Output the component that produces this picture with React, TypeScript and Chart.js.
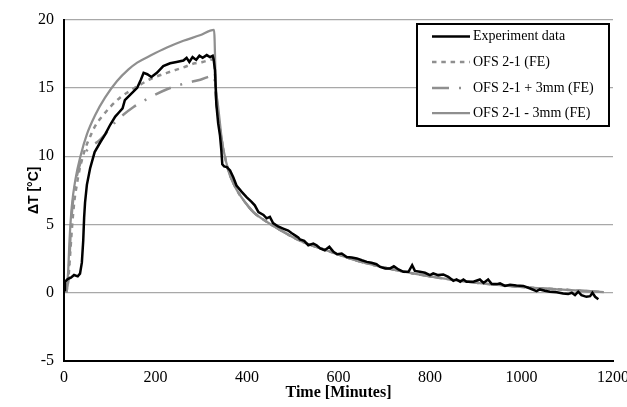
import React, { useEffect, useRef } from "react";
import { Chart, registerables } from "chart.js";

Chart.register(...registerables);

const seriesNames = ["Experiment data", "OFS 2-1 (FE)", "OFS 2-1 + 3mm (FE)", "OFS 2-1 - 3mm (FE)"];

const xTickValues = [0, 200, 400, 600, 800, 1000, 1200];
const yTickValues = [-5, 0, 5, 10, 15, 20];

// Experiment data (minutes, °C)
const expTime = [
  0, 2, 8, 15, 22, 30, 35, 39, 42, 44, 46, 50, 57, 67, 79, 90, 101, 112, 120, 128, 133, 145, 160, 168, 174, 182, 191,
  203, 217, 232, 246, 261, 268, 274, 281, 289, 296, 303, 312, 319, 325, 327, 330, 333, 337, 341, 344, 346, 350, 356,
  363, 370, 377, 388, 399, 410, 417, 425, 436, 443, 450, 457, 468, 479, 490, 498, 505, 512,
  516, 525, 534, 545, 552, 560, 570, 580, 589, 597, 607, 618, 629, 640, 651, 662, 672, 683, 691, 702, 713, 721, 731,
  742, 753, 761, 767, 778, 789, 800, 807, 818, 829, 840, 851, 858, 866, 873, 880, 895, 909, 917, 927, 935, 946, 953,
  964, 975, 989, 1004, 1019, 1033, 1040, 1051, 1062, 1077, 1091, 1102, 1110, 1117, 1124, 1131, 1142, 1150, 1155, 1161, 1168,
];
const expDT = [
  0.2, 0.8, 1.0, 1.1, 1.3, 1.2, 1.4, 2.2, 3.8, 5.5, 6.6, 7.9, 9.1, 10.3, 11.0, 11.6, 12.3, 12.9, 13.2, 13.5, 14.1, 14.5,
  15.0, 15.6, 16.1, 16.0, 15.8, 16.1, 16.6, 16.8, 16.9, 17.0, 17.2, 16.9, 17.25, 17.05, 17.35, 17.2, 17.4, 17.25, 17.35,
  17.1, 16.3, 13.8, 12.4, 11.5, 10.4, 9.4, 9.25, 9.2, 8.95, 8.45, 7.85, 7.4, 7.0, 6.65, 6.4, 5.9, 5.7, 5.45, 5.55, 5.1,
  4.85, 4.7, 4.55, 4.35, 4.2, 4.05,
  3.9, 3.8, 3.48, 3.6, 3.48, 3.24, 3.11, 3.36, 2.99, 2.82, 2.87, 2.62, 2.58, 2.51, 2.38, 2.26, 2.19, 2.09, 1.89, 1.78,
  1.78, 1.94, 1.7, 1.53, 1.53, 2.02, 1.6, 1.53, 1.46, 1.29, 1.41, 1.29, 1.34, 1.16, 0.87, 0.97, 0.8, 0.97, 0.8, 0.8,
  0.97, 0.72, 0.97, 0.63, 0.63, 0.68, 0.5, 0.58, 0.53, 0.5, 0.31, 0.12, 0.24, 0.14, 0.07, 0.04, -0.05, -0.1, 0.0,
  -0.18, 0.07, -0.18, -0.3, -0.25, 0.0, -0.3, -0.47,
];

// OFS 2-1 (FE)
const ofsTime = [
  5, 9, 13, 18, 23, 28, 32, 39, 47, 58, 68, 83, 101, 123, 145, 170, 189, 225, 261, 286, 303, 328, 331, 335, 340, 345,
  349, 359, 374, 392, 414, 443, 480, 516, 574, 621, 662, 734, 807, 880, 953, 1026, 1099, 1180,
];
const ofsDT = [
  0, 0.8, 2.6, 5.0, 6.8, 7.9, 8.7, 9.7, 10.6, 11.5, 12.2, 12.9, 13.6, 14.3, 14.8, 15.3, 15.65, 16.1, 16.5, 16.8, 16.9,
  17.1, 15.3, 13.4, 12.3, 11.1, 10.35, 9.0, 7.75, 6.8, 5.9, 5.2, 4.45, 3.8, 3.1, 2.55, 2.15, 1.6, 1.16, 0.82, 0.56,
  0.36, 0.21, 0.05,
];

// OFS 2-1 + 3mm (FE)
const plusTime = [
  5, 9, 12, 15, 19, 25, 33, 42, 55, 79, 115, 152, 188, 225, 261, 298, 328, 332, 336, 341, 346, 350, 359, 374, 392, 414,
  443, 480, 516, 574, 621, 662, 734, 807, 880, 953, 1026, 1099, 1180,
];
const plusDT = [
  0, 0.9, 2.5, 4.8, 6.5, 8.0, 9.2, 10.0, 10.6, 11.2, 12.6, 13.6, 14.3, 14.9, 15.3, 15.6, 15.9, 14.3, 13.0, 11.9, 10.9,
  10.2, 9.0, 7.75, 6.8, 5.9, 5.2, 4.45, 3.8, 3.1, 2.55, 2.15, 1.6, 1.16, 0.82, 0.56, 0.36, 0.21, 0.05,
];

// OFS 2-1 - 3mm (FE)
const minusTime = [
  5, 9, 12, 17, 25, 36, 50, 68, 90, 116, 141, 160, 188, 225, 261, 297, 328, 332, 336, 340, 345, 349, 359, 374, 392,
  414, 443, 480, 516, 574, 621, 662, 734, 807, 880, 953, 1026, 1099, 1180,
];
const minusDT = [
  0, 1.5, 3.8, 6.3, 8.3, 10.0, 11.6, 13.0, 14.3, 15.5, 16.35, 16.85, 17.35, 17.95, 18.45, 18.85, 19.25, 15.1, 13.9,
  12.7, 11.2, 10.4, 9.0, 7.75, 6.8, 5.9, 5.2, 4.45, 3.8, 3.1, 2.55, 2.15, 1.6, 1.16, 0.82, 0.56, 0.36, 0.21, 0.05,
];

const SERIF = "'Liberation Serif', 'Times New Roman', serif";
const SANS = "'Liberation Sans', Arial, sans-serif";

const toPoints = (xs: number[], ys: number[]) => xs.map((x, i) => ({ x, y: ys[i] }));

const boxLegend = {
  id: "boxLegend",
  afterDraw(chart: any) {
    const ctx = chart.ctx as CanvasRenderingContext2D;
    ctx.save();
    const x0 = 417, y0 = 24, w = 192, h = 102;
    ctx.fillStyle = "#ffffff";
    ctx.fillRect(x0, y0, w, h);
    ctx.lineWidth = 2;
    ctx.strokeStyle = "#000000";
    ctx.setLineDash([]);
    ctx.strokeRect(x0, y0, w, h);
    const rows = [36.5, 62, 88, 113];
    chart.data.datasets.forEach((ds: any, i: number) => {
      const y = rows[i];
      ctx.beginPath();
      ctx.setLineDash(ds.borderDash || []);
      ctx.strokeStyle = ds.borderColor;
      ctx.lineWidth = ds.borderWidth;
      ctx.lineCap = "butt";
      ctx.moveTo(432, y);
      ctx.lineTo(470, y);
      ctx.stroke();
      ctx.setLineDash([]);
      ctx.fillStyle = "#000000";
      ctx.font = `14px ${SERIF}`;
      ctx.textBaseline = "middle";
      ctx.textAlign = "left";
      ctx.fillText(ds.label, 473, y);
    });
    ctx.restore();
  },
};

export default function App() {
  const canvasRef = useRef<HTMLCanvasElement | null>(null);

  useEffect(() => {
    if (!canvasRef.current) return;
    const chart = new Chart(canvasRef.current, {
      type: "line",
      data: {
        datasets: [
          {
            label: seriesNames[0],
            data: toPoints(expTime, expDT),
            borderColor: "#000000",
            borderWidth: 2.5,
            pointRadius: 0,
            tension: 0,
            fill: false,
          },
          {
            label: seriesNames[1],
            data: toPoints(ofsTime, ofsDT),
            borderColor: "#8f8f8f",
            borderWidth: 2.5,
            borderDash: [4.5, 4.8],
            pointRadius: 0,
            cubicInterpolationMode: "monotone",
            fill: false,
          },
          {
            label: seriesNames[2],
            data: toPoints(plusTime, plusDT),
            borderColor: "#8f8f8f",
            borderWidth: 2.5,
            borderDash: [17, 10, 2, 10],
            pointRadius: 0,
            cubicInterpolationMode: "monotone",
            fill: false,
          },
          {
            label: seriesNames[3],
            data: toPoints(minusTime, minusDT),
            borderColor: "#8f8f8f",
            borderWidth: 2.25,
            pointRadius: 0,
            cubicInterpolationMode: "monotone",
            fill: false,
          },
        ],
      },
      options: {
        responsive: false,
        animation: false,
        layout: { padding: { top: 19, right: 14, bottom: 0, left: 0 } },
        plugins: {
          legend: { display: false },
          tooltip: { enabled: false },
        },
        scales: {
          x: {
            type: "linear",
            min: 0,
            max: 1200,
            afterBuildTicks: (scale: any) => {
              scale.ticks = xTickValues.map((v) => ({ value: v }));
            },
            afterFit: (scale: any) => {
              scale.height = 46;
              scale.paddingRight = 0;
              scale.paddingLeft = 0;
            },
            grid: { display: false, drawTicks: false },
            border: { display: true, color: "#000000", width: 2 },
            ticks: {
              color: "#000000",
              padding: 7,
              maxRotation: 0,
              autoSkip: false,
              font: { family: SERIF, size: 16 },
              callback: (v: any) => String(v),
            },
            title: {
              display: true,
              text: "Time [Minutes]",
              color: "#000000",
              font: { family: SERIF, size: 16, weight: "bold" },
              padding: { top: 0, bottom: 5 },
            },
          },
          y: {
            min: -5,
            max: 20,
            afterBuildTicks: (scale: any) => {
              scale.ticks = yTickValues.map((v) => ({ value: v }));
            },
            afterFit: (scale: any) => {
              scale.width = 64;
            },
            grid: { color: "#a8a8a8", lineWidth: 1.25, drawTicks: false },
            border: { display: true, color: "#000000", width: 2 },
            ticks: {
              color: "#000000",
              padding: 10,
              font: { family: SERIF, size: 16 },
              callback: (v: any) => String(v),
            },
            title: {
              display: true,
              text: "ΔT [°C]",
              color: "#000000",
              font: { family: SANS, size: 14, weight: "bold" },
              padding: { top: 26, bottom: 0 },
            },
          },
        },
      },
      plugins: [boxLegend],
    } as any);
    return () => chart.destroy();
  }, []);

  return (
    <div style={{ position: "fixed", left: 0, top: 0, width: 627, height: 407, background: "#ffffff" }}>
      <canvas ref={canvasRef} width={627} height={407} style={{ width: 627, height: 407, display: "block" }} />
    </div>
  );
}
